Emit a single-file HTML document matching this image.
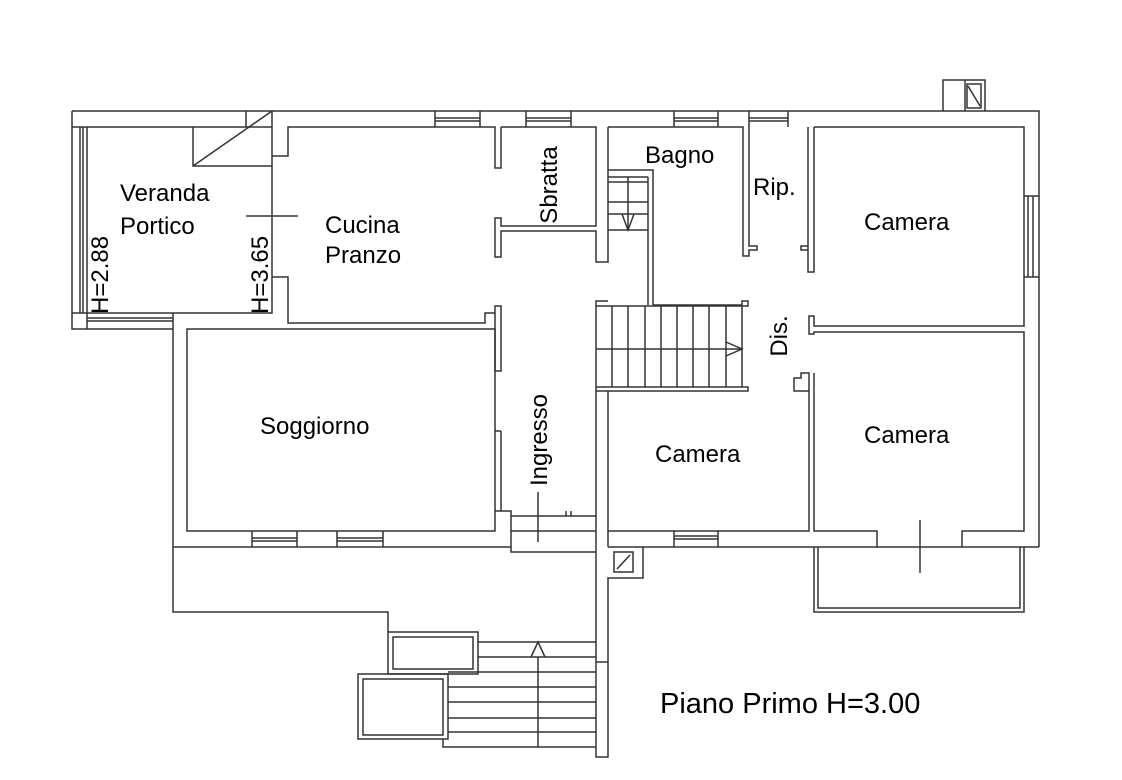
<!DOCTYPE html>
<html><head><meta charset="utf-8"><style>
html,body{margin:0;padding:0;background:#fff;}
svg{display:block;}
text{font-family:"Liberation Sans",Arial,sans-serif;fill:#000;}
</style></head><body>
<svg width="1122" height="780" viewBox="0 0 1122 780" xmlns="http://www.w3.org/2000/svg">
<g fill="none" stroke="#333" stroke-width="1.5">
<path d="M72 111 H1039 V547"/>
<path d="M72 111 V329 H173"/>
<path d="M87 127 V313 H272 V111"/>
<path d="M80 127 V313 M83 127 V313"/>
<path d="M72 127 H87 M72 313 H87 M87 313 V329"/>
<path d="M87 318 H173 M87 321 H173"/>
<path d="M87 127 H272"/>
<path d="M246 111 V127"/>
<path d="M193 127 V166 H272"/>
<path d="M193 166 L272 111"/>
<path d="M246 216 H298"/>
<path d="M272 156 H288 V127 H495 V168 H501 V127"/>
<path d="M272 277 H288 V323 H485 V313 H495 V306 H501 V371 H495 V313"/>
<path d="M435 111 V127 M480 111 V127 M435 118 H480 M435 121 H480"/>
<path d="M526 111 V127 M571 111 V127 M526 118 H571 M526 121 H571"/>
<path d="M501 127 H596 V226 H501 V218 H495 V257 H501 V231 H596 V262 H608 V127"/>
<path d="M608 127 H743 V256 H749 V250 H757 V246 H749 V127"/>
<path d="M608 170 H653 V305 M648 177 V305"/>
<path d="M608 177 H648 M608 182 H648 M608 202 H648 M608 214 H648 M608 230 H648 M628 177 V230"/>
<path d="M622 214 L628 230 L634 214"/>
<path d="M674 111 V127 M718 111 V127 M674 118 H718 M674 121 H718"/>
<path d="M749 111 V127 M788 111 V127 M749 118 H788 M749 121 H788"/>
<path d="M814 127 H1024 V326 H814 V316 H809 V334 H814 V332 H1024 V531 H962 V547"/>
<path d="M808 127 V272 H814 V127 M808 250 H801 V246 H808"/>
<path d="M1024 196 H1039 M1024 277 H1039 M1028 196 V277 M1033 196 V277"/>
<path d="M943 111 V80 H985 V111 M965 80 V111 M967 84 H981 V108 H967 Z M968 86 L980 106"/>
<path d="M653 305 H742 V301 H748 V306 H596 V301 H608"/>
<path d="M596 306 V391 H748 V387 H596"/>
<path d="M612 306 V387 M628 306 V387 M645 306 V387 M661 306 V387 M677 306 V387 M693 306 V387 M709 306 V387 M726 306 V387 M742 306 V387 M596 349 H742"/>
<path d="M726 342 L742 349 L726 356"/>
<path d="M608 391 V531 H809 V373 H801 V378 H794 V391 H809 M814 373 V531 H877 V547"/>
<path d="M608 547 V531 M643 547 H1039 M674 531 V547 M718 531 V547 M674 536 H718 M674 539 H718"/>
<path d="M596 391 V757 H608 V578 H643 V547 M596 662 H608"/>
<path d="M608 547 H643 M614 552 H633 V572 H614 Z M617 569 L630 555"/>
<path d="M920 520 V573"/>
<path d="M814 547 V612 H1024 V547 M818 547 V608 H1020 V547"/>
<path d="M173 313 V612 H388 V632"/>
<path d="M187 329 H495 V531 H187 Z"/>
<path d="M501 431 V511 H511 V552 H596 M495 431 H501 M495 511 H501"/>
<path d="M173 547 H511 M252 531 V547 M297 531 V547 M252 538 H297 M252 541 H297 M337 531 V547 M383 531 V547 M337 538 H383 M337 541 H383"/>
<path d="M511 516 H596 M511 531 H596 M538 492 V542 M566 511 V516 M571 511 V516"/>
<path d="M388 632 H478 V674 H388 Z M393 637 H473 V669 H393 Z"/>
<path d="M358 674 H448 V739 H358 Z M363 679 H443 V735 H363 Z"/>
<path d="M478 642 H596 M478 657 H596 M448 672 H596 M448 687 H596 M448 702 H596 M448 718 H596 M448 732 H596 M443 739 V747 H596"/>
<path d="M538 657 V747 M531 657 L538 642 L545 657"/>
</g>
<g font-size="24">
<text x="120" y="201">Veranda</text>
<text x="120" y="234">Portico</text>
<text x="325" y="233">Cucina</text>
<text x="325" y="263">Pranzo</text>
<text x="645" y="163">Bagno</text>
<text x="753" y="195">Rip.</text>
<text x="864" y="230">Camera</text>
<text x="260" y="434">Soggiorno</text>
<text x="655" y="462">Camera</text>
<text x="864" y="443">Camera</text>
<text transform="translate(557,185) rotate(-90)" text-anchor="middle">Sbratta</text>
<text transform="translate(787,336) rotate(-90)" text-anchor="middle">Dis.</text>
<text transform="translate(547,440) rotate(-90)" text-anchor="middle">Ingresso</text>
<text transform="translate(108,314) rotate(-90)">H=2.88</text>
<text transform="translate(268,314) rotate(-90)">H=3.65</text>
</g>
<text x="660" y="713" font-size="29">Piano Primo H=3.00</text>
</svg>
</body></html>
